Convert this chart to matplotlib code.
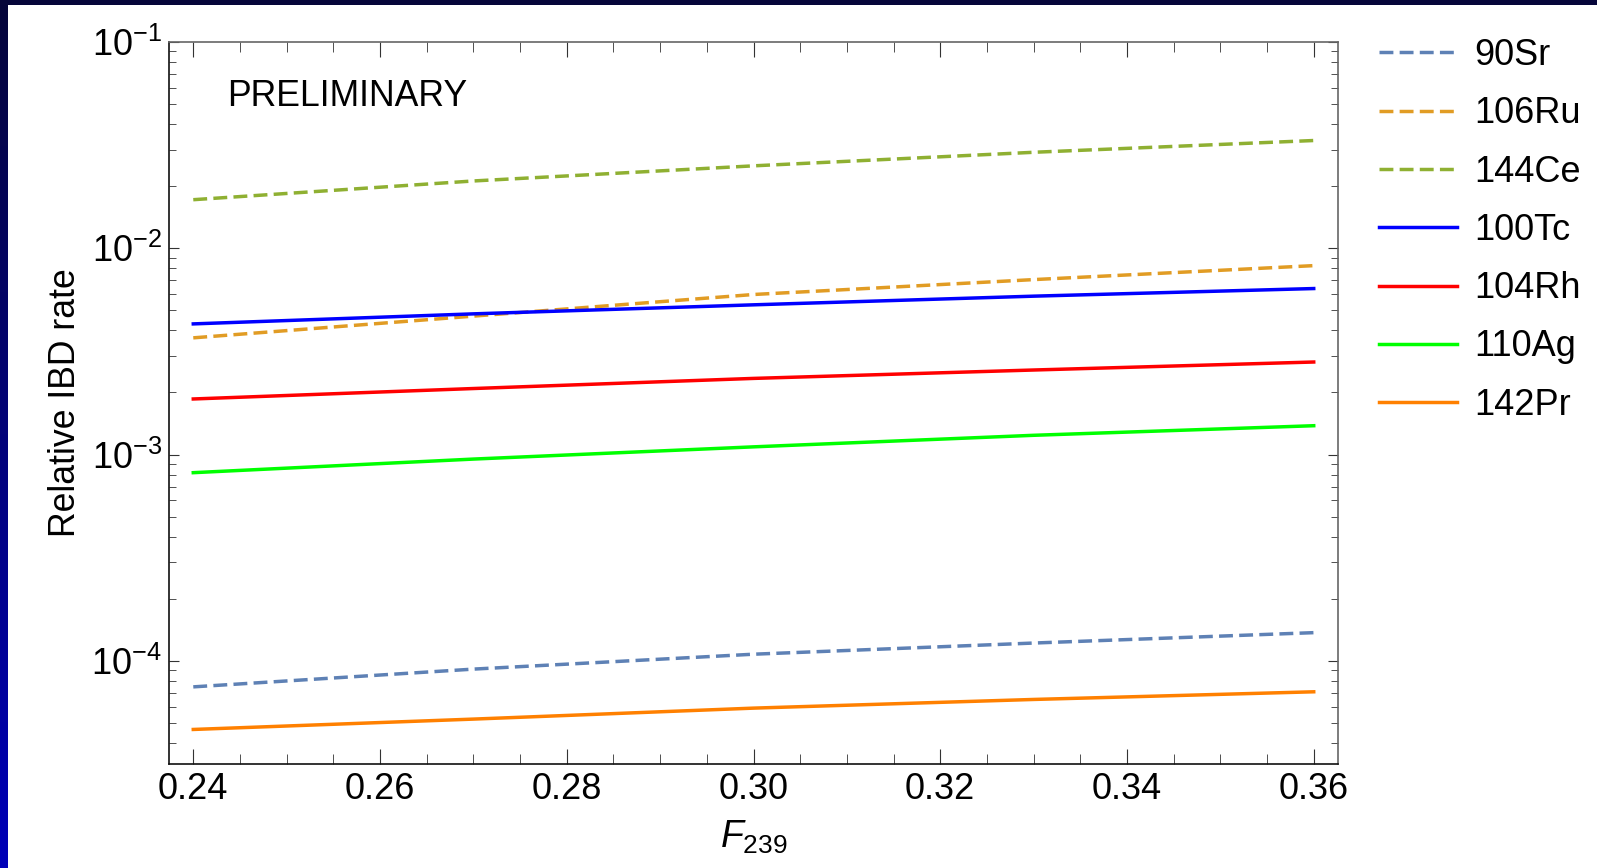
import numpy as np
import matplotlib
matplotlib.use("Agg")
import matplotlib.pyplot as plt
from matplotlib.ticker import MultipleLocator

plt.rcParams["font.family"] = ["Liberation Sans", "DejaVu Sans"]
plt.rcParams["mathtext.fontset"] = "custom"
plt.rcParams["mathtext.rm"] = "Liberation Sans"
plt.rcParams["mathtext.it"] = "Liberation Sans:italic"
plt.rcParams["mathtext.default"] = "regular"

# ── data ──────────────────────────────────────────────────────────────────────
f239  = [0.24, 0.27, 0.30, 0.33, 0.36]
sr90  = [7.48e-5, 9.12e-5, 1.077e-4, 1.22e-4, 1.37e-4]
ru106 = [3.68e-3, 4.69e-3, 5.97e-3, 7.05e-3, 8.24e-3]
ce144 = [0.0172, 0.0212, 0.0251, 0.0292, 0.0333]
tc100 = [4.30e-3, 4.81e-3, 5.32e-3, 5.86e-3, 6.38e-3]
rh104 = [1.86e-3, 2.09e-3, 2.34e-3, 2.57e-3, 2.81e-3]
ag110 = [8.17e-4, 9.51e-4, 1.09e-3, 1.24e-3, 1.38e-3]
pr142 = [4.65e-5, 5.22e-5, 5.90e-5, 6.50e-5, 7.08e-5]

labels = ["90Sr", "106Ru", "144Ce", "100Tc", "104Rh", "110Ag", "142Pr"]
series = [sr90, ru106, ce144, tc100, rh104, ag110, pr142]
colors = ["#5e81b5", "#e19c24", "#8fb032", "#0000ff", "#ff0000", "#00ff00", "#ff8000"]
dashed = [True, True, True, False, False, False, False]

xticks = [0.24, 0.26, 0.28, 0.30, 0.32, 0.34, 0.36]

W, H = 1597, 868
fig = plt.figure(figsize=(W / 100, H / 100), dpi=100)

# ── slide-like border (navy top strip, blue gradient left strip) ──────────────
grad = np.linspace(0, 1, 256).reshape(-1, 1)
band = fig.add_axes([0, 0, 8 / W, 1])
band.imshow(grad, aspect="auto", origin="upper",
            cmap=matplotlib.colors.LinearSegmentedColormap.from_list("b", ["#06063a", "#0000b8"]))
band.axis("off")
top = fig.add_axes([0, 1 - 5 / H, 1, 5 / H])
top.set_facecolor("#06063a")
top.set_xticks([]); top.set_yticks([])
for s in top.spines.values():
    s.set_visible(False)

# ── main plot ─────────────────────────────────────────────────────────────────
ax = fig.add_axes([169 / W, 1 - 764 / H, (1338 - 169) / W, (764 - 42) / H])
for y, lab, c, d in zip(series, labels, colors, dashed):
    line, = ax.plot(f239, y, color=c, lw=2.5, label=lab)
    if d:
        line.set_dashes((4, 1.8))

ax.set_yscale("log")
ax.set_xlim(0.2374, 0.3626)
ax.set_ylim(10 ** -4.5, 0.1)
ax.set_xticks(xticks)
ax.set_xticklabels([f"{v:.2f}" for v in xticks])
ax.xaxis.set_minor_locator(MultipleLocator(0.005))
ax.tick_params(which="both", direction="in", top=True, right=True, labelsize=26, color="#333333")
ax.tick_params(axis="x", which="major", length=11, pad=6)
ax.tick_params(axis="x", which="minor", length=7)
ax.tick_params(axis="y", which="major", length=7, pad=5)
ax.tick_params(axis="y", which="minor", length=5)
for side in ["left", "bottom"]:
    ax.spines[side].set_color("#111111")
for side in ["right", "top"]:
    ax.spines[side].set_color("#666666")
for s in ax.spines.values():
    s.set_linewidth(1.2)

ax.set_ylabel("Relative IBD rate", fontsize=25.7, labelpad=6)
ax.set_xlabel(r"$\mathit{F}_{239}$", fontsize=27, labelpad=8)
ax.text(0.0496, 0.924, "PRELIMINARY", transform=ax.transAxes, fontsize=25.7,
        va="center", ha="left")

leg = ax.legend(loc="upper left", bbox_to_anchor=(1379 / W, 1 - 38 / H),
                bbox_transform=fig.transFigure, frameon=False, fontsize=26,
                handlelength=2.15, handletextpad=0.5, labelspacing=0.645,
                borderpad=0, borderaxespad=0)

fig.savefig("out.png", dpi=100)
